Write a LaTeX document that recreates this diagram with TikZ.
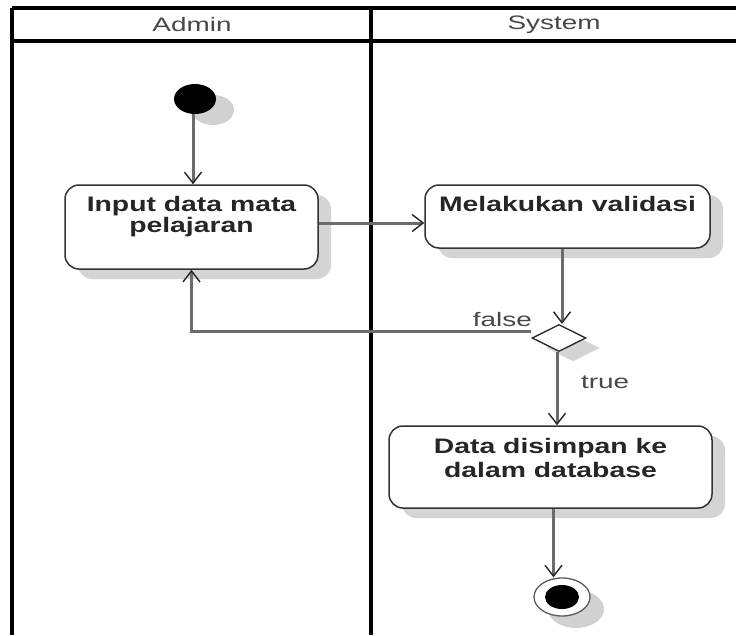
\documentclass[tikz,border=0pt]{standalone}
\usepackage{fontspec}
\setmainfont{Liberation Sans}
\usetikzlibrary{shapes.geometric,arrows.meta,shadows}
\newcommand{\blbl}[2]{\scalebox{1.35}[1]{\fontsize{21}{#1}\selectfont\bfseries\begin{tabular}{@{}c@{}}#2\end{tabular}}}
\newcommand{\rlbl}[1]{\scalebox{1.43}[1]{\fontsize{19.5}{22}\selectfont #1}}
\tikzset{
  lane/.style={line width=3.2pt, black},
  shad/.style={drop shadow={shadow xshift=13pt, shadow yshift=-10pt, fill=black!17, opacity=1}},
  act/.style={draw=black!80, line width=1.5pt, rounded corners=14pt, fill=white, inner sep=0pt, shad},
  lbl/.style={inner sep=0pt, text=black!85},
  rtext/.style={inner sep=0pt, text=black!72},
  flow/.style={draw=black!58, line width=3pt, -{Straight Barb[length=11pt,width=17pt,line width=1.4pt,color=black!85]}},
  startn/.style={ellipse, fill=black, minimum width=42pt, minimum height=30pt, inner sep=0pt,
    drop shadow={shadow xshift=18pt, shadow yshift=-11pt, fill=black!18, opacity=1}},
  decn/.style={diamond, draw=black!85, line width=1.3pt, fill=white, minimum width=54pt, minimum height=27pt, inner sep=0pt,
    drop shadow={shadow xshift=14pt, shadow yshift=-10pt, fill=black!17, opacity=1}},
  endo/.style={ellipse, draw=black!65, line width=1.3pt, fill=white, minimum width=56pt, minimum height=38pt, inner sep=0pt,
    drop shadow={shadow xshift=14pt, shadow yshift=-12pt, fill=black!18, opacity=1}},
  endi/.style={ellipse, fill=black, minimum width=34pt, minimum height=24pt, inner sep=0pt}
}
\begin{document}
\begin{tikzpicture}[x=1pt,y=-1pt]
\useasboundingbox (0,0) rectangle (736,635);
\fill[white] (0,0) rectangle (736,635);
% swimlane frame
\draw[lane] (12,8) -- (736,8);
\draw[lane] (12,41) -- (736,41);
\draw[lane] (12,8) -- (12,635);
\draw[lane] (371,8) -- (371,635);
\node[rtext] (hA) at (192,25) {\rlbl{Admin}};
\node[rtext] (hS) at (554,25) {\rlbl{System}};
% nodes
\node[startn] (start) at (195,99) {};
\node[act, minimum width=253pt, minimum height=84pt] (A) at (191.5,227) {};
\node[lbl] (At) at (191.5,217) {\blbl{20}{Input data mata\\pelajaran}};
\node[act, minimum width=285pt, minimum height=63pt] (B) at (567.5,216.5) {};
\node[lbl] (Bt) at (567.5,207) {\blbl{20}{Melakukan validasi}};
\node[decn] (D) at (559,338) {};
\node[act, minimum width=323pt, minimum height=82pt] (C) at (550.5,467) {};
\node[lbl] (Ct) at (550.5,461) {\blbl{24}{Data disimpan ke\\dalam database}};
\node[endo] (E) at (562,597) {};
\node[endi] (Ei) at (562,597) {};
% connectors
\draw[flow] ([xshift=-2pt]start.south) -- ([xshift=-2pt]start.south |- A.north);
\draw[flow] ([yshift=4pt]A.east) -- ([yshift=4pt]A.east -| B.west);
\draw[flow] ([xshift=3pt]D.north |- B.south) -- ([xshift=3pt]D.north);
\draw[flow] ([yshift=7pt]D.west) -| (A.south);
\draw[flow] ([xshift=-2pt]D.south) -- ([xshift=-2pt]D.south |- C.north);
\draw[flow] ([xshift=3pt]C.south) -- ([xshift=3pt]C.south |- E.north);
\node[rtext, anchor=east] (lf) at (532,320) {\rlbl{false}};
\node[rtext, anchor=west] (lt) at (581,382) {\rlbl{true}};
\end{tikzpicture}
\end{document}
